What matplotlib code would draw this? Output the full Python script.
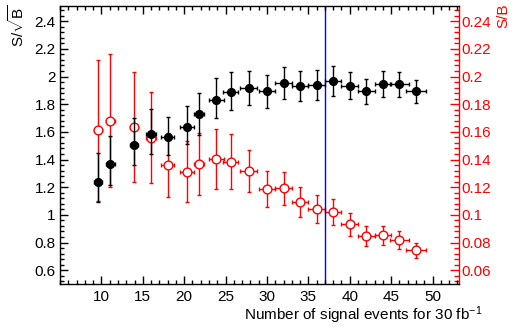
import matplotlib
matplotlib.use("Agg")
import matplotlib.pyplot as plt
from matplotlib.ticker import MultipleLocator

plt.rcParams["font.family"] = ["Liberation Sans", "DejaVu Sans"]
plt.rcParams["mathtext.fontset"] = "custom"
plt.rcParams["mathtext.rm"] = "Liberation Sans"
plt.rcParams["mathtext.it"] = "Liberation Sans:italic"

# number of signal events (bin centres) and half bin widths
n_sig = [9.6, 11.1, 13.9, 16.0, 18.0, 20.3, 21.8, 23.9, 25.6, 27.8,
         30.0, 32.0, 34.0, 36.0, 38.0, 40.0, 42.0, 44.0, 46.0, 48.0]
n_err = [0.5, 0.5, 0.5, 0.65, 0.75, 0.85, 0.65, 0.95, 0.95, 1.0,
         1.0, 1.0, 1.0, 1.0, 1.0, 1.0, 1.0, 1.0, 1.1, 1.2]

# S/sqrt(B) with asymmetric errors
signif = [1.24, 1.368, 1.506, 1.583, 1.564, 1.636, 1.728, 1.832, 1.885, 1.917,
          1.892, 1.953, 1.933, 1.94, 1.967, 1.933, 1.892, 1.945, 1.945, 1.892]
signif_hi = [1.446, 1.571, 1.699, 1.762, 1.711, 1.786, 1.883, 1.986, 2.035, 2.042,
             2.008, 2.071, 2.042, 2.047, 2.073, 2.033, 1.982, 2.037, 2.033, 1.975]
signif_lo = [1.093, 1.214, 1.361, 1.443, 1.436, 1.513, 1.578, 1.701, 1.757, 1.793,
             1.776, 1.837, 1.82, 1.832, 1.861, 1.834, 1.801, 1.854, 1.854, 1.81]

# S/B and symmetric errors
s_over_b = [0.1612, 0.168, 0.1636, 0.1559, 0.1359, 0.1312, 0.1368, 0.1402, 0.1385, 0.1317,
            0.1189, 0.1192, 0.1093, 0.104, 0.1018, 0.0931, 0.0846, 0.0851, 0.0815, 0.0743]
s_over_b_err = [0.051, 0.048, 0.040, 0.033, 0.023, 0.022, 0.0225, 0.0218, 0.020, 0.0155,
                0.013, 0.012, 0.011, 0.010, 0.0095, 0.0085, 0.007, 0.007, 0.0065, 0.0057]

cut_value = 37

fig = plt.figure(figsize=(5.12, 3.27), dpi=100)
ax = fig.add_axes([60 / 512, 1 - 284 / 327, 399 / 512, 278 / 327])
ax2 = ax.twinx()

yerr_black = [[s - lo for s, lo in zip(signif, signif_lo)],
              [hi - s for s, hi in zip(signif, signif_hi)]]

ax.errorbar(n_sig, signif, xerr=n_err, yerr=yerr_black, fmt="none",
            ecolor="black", elinewidth=1.0, capsize=1.5, capthick=1.0, zorder=2)
ax2.errorbar(n_sig, s_over_b, xerr=n_err, yerr=s_over_b_err, fmt="none",
             ecolor="red", elinewidth=1.0, capsize=1.5, capthick=1.0, zorder=3)
ax2.plot(n_sig, s_over_b, "o", ms=6.3, mfc="white", mec="red", mew=1.0,
         linestyle="none", zorder=4)

ax.set_zorder(ax2.get_zorder() + 1)
ax.patch.set_visible(False)
ax.plot(n_sig, signif, "o", ms=5.6, color="black", linestyle="none", zorder=5)

ax.axvline(cut_value, color="blue", linewidth=1.0, zorder=1)

ax.set_xlim(5, 53.2)
ax.set_ylim(0.5, 2.51)
ax2.set_ylim(0.05, 0.251)

ax.xaxis.set_major_locator(MultipleLocator(5))
ax.xaxis.set_minor_locator(MultipleLocator(1))
ax.yaxis.set_major_locator(MultipleLocator(0.2))
ax.yaxis.set_minor_locator(MultipleLocator(0.04))
ax2.yaxis.set_major_locator(MultipleLocator(0.02))
ax2.yaxis.set_minor_locator(MultipleLocator(0.004))

ax.set_xticks([10, 15, 20, 25, 30, 35, 40, 45, 50])
ax.set_xticklabels(["10", "15", "20", "25", "30", "35", "40", "45", "50"])
ax.set_yticks([0.6, 0.8, 1.0, 1.2, 1.4, 1.6, 1.8, 2.0, 2.2, 2.4])
ax.set_yticklabels(["0.6", "0.8", "1", "1.2", "1.4", "1.6", "1.8", "2", "2.2", "2.4"])
ax2.set_yticks([0.06, 0.08, 0.10, 0.12, 0.14, 0.16, 0.18, 0.20, 0.22, 0.24])
ax2.set_yticklabels(["0.06", "0.08", "0.1", "0.12", "0.14", "0.16", "0.18", "0.2", "0.22", "0.24"])

ax.tick_params(axis="both", which="both", direction="in", top=True, right=False,
               labelsize=11, width=1.0)
ax.tick_params(axis="both", which="major", length=6)
ax.tick_params(axis="both", which="minor", length=3)
ax.tick_params(axis="x", pad=4)
ax.tick_params(axis="y", pad=3)
ax2.tick_params(axis="y", which="both", direction="in", colors="red",
                labelsize=11, width=1.0, pad=2)
ax2.tick_params(axis="y", which="major", length=6.5)
ax2.tick_params(axis="y", which="minor", length=3.5)

for side in ["left", "top", "bottom"]:
    ax.spines[side].set_linewidth(1.0)
ax.spines["right"].set_visible(False)
ax2.spines["right"].set_color("red")
ax2.spines["right"].set_linewidth(1.0)
for side in ["left", "top", "bottom"]:
    ax2.spines[side].set_visible(False)

fig.text(17 / 512, 1 - 4 / 327, r"S/$\sqrt{\mathrm{B}}$", rotation=90,
         ha="center", va="top", fontsize=11)
fig.text(503 / 512, 1 - 4 / 327, "S/B", rotation=90, color="red",
         ha="center", va="top", fontsize=11)
fig.text(482 / 512, 1 - 320 / 327, r"Number of signal events for 30 fb$^{\mathrm{-1}}$",
         ha="right", va="baseline", fontsize=11)

fig.savefig("out.png", dpi=100)
